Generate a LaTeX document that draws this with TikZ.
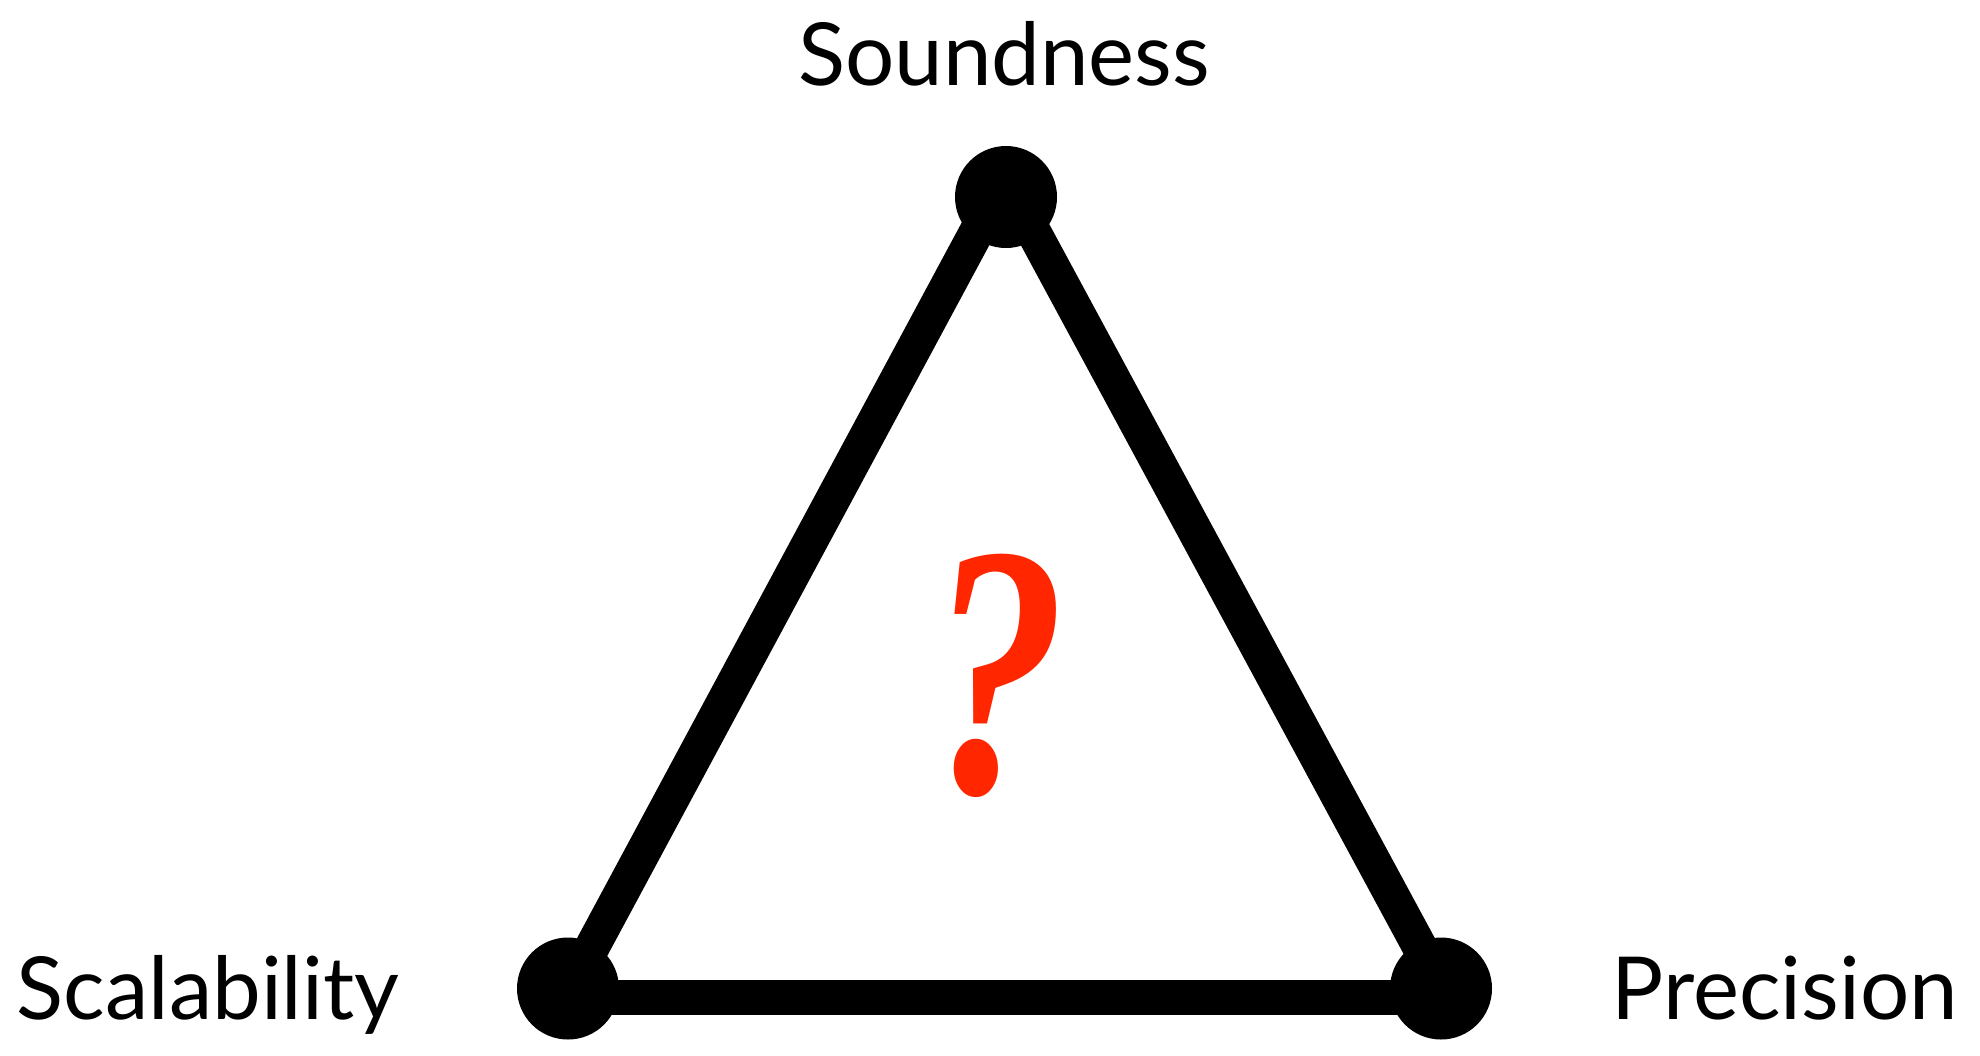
\documentclass[tikz,border=0pt]{standalone}
\usepackage{fontspec}
\setmainfont{Lato}
\newfontfamily\qfont{Liberation Serif}
\definecolor{qred}{HTML}{FF2600}
\begin{document}
\begin{tikzpicture}[x=0.5pt,y=-0.5pt,
  edge/.style={line width=17.5pt, line cap=butt},
  vertex/.style={circle, fill=black, minimum size=51pt, inner sep=0pt},
  lbl/.style={font=\fontsize{43.5}{50}\selectfont, anchor=base, inner sep=0pt}]
\useasboundingbox (0,0) rectangle (1980,1055);
\coordinate (ta) at (1005,179);
\coordinate (tl) at (565,997.5);
\coordinate (tr) at (1447,997.5);
\draw[edge] (ta) -- (tl);
\draw[edge] (ta) -- (tr);
\draw[edge] (tl) -- (tr);
\node[vertex] (vs) at (1006,197) {};
\node[vertex] (vl) at (568,988.5) {};
\node[vertex] (vr) at (1441,988.5) {};
\node[lbl] (sound) at (1004,85) {Soundness};
\node[lbl] (scal) at (208,1019) {Scalability};
\node[lbl] (prec) at (1785,1019) {Precision};
\node[font=\qfont\bfseries\itshape\fontsize{180}{180}\selectfont, text=qred, anchor=base, inner sep=0pt] (q) at (998,792) {\scalebox{0.76}[1]{?}};
\end{tikzpicture}
\end{document}
